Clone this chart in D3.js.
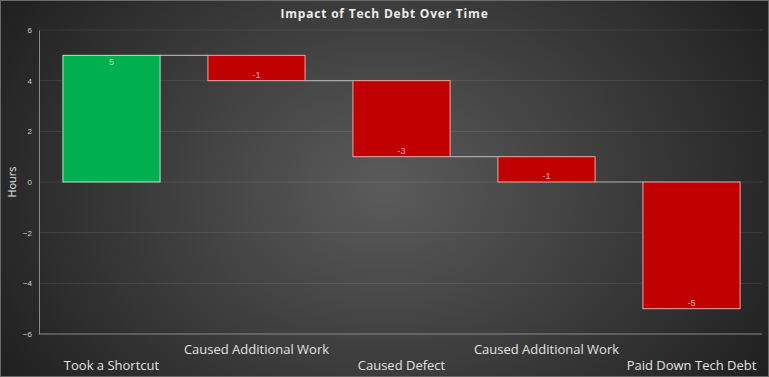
<!DOCTYPE html>
<html>
<head>
<meta charset="utf-8">
<script src="https://cdn.jsdelivr.net/npm/d3@7"></script>
<style>
  body { margin: 0; background: #2a2a2a; }
  svg { display: block; }
</style>
</head>
<body>
<div id="chart"></div>
<script>
/* CONSTANTS AND GLOBALS */
const width = 769,
  height = 377,
  margin = { top: 30, bottom: 43, left: 39, right: 5 };

/* DATA */
const categories = ["Took a Shortcut", "Caused Additional Work", "Caused Defect", "Caused Additional Work", "Paid Down Tech Debt"];
const changes = [5, -1, -3, -1, -5];
const yTicks = [-6, -4, -2, 0, 2, 4, 6];

// running totals for the waterfall
let total = 0;
const steps = changes.map((v, i) => {
  const start = total;
  total += v;
  return { key: i, name: categories[i], value: v, start: start, end: total };
});

const svg = d3.select("#chart")
  .append("svg")
  .attr("width", width)
  .attr("height", height);

// background gradient
const defs = svg.append("defs");
const grad = defs.append("radialGradient")
  .attr("id", "bg")
  .attr("cx", "50%").attr("cy", "50%").attr("r", "60%")
  .attr("gradientTransform", "translate(0.5,0.5) scale(1,1.6) translate(-0.5,-0.5)");
grad.append("stop").attr("offset", "0%").attr("stop-color", "#5b5b5b");
grad.append("stop").attr("offset", "100%").attr("stop-color", "#1e1e1e");

svg.append("rect")
  .attr("x", 0.5).attr("y", 0.5)
  .attr("width", width - 1).attr("height", height - 1)
  .attr("fill", "url(#bg)")
  .attr("stroke", "#6a6a6a");

/* SCALES */
const xScale = d3.scaleBand()
  .domain(steps.map(d => d.key))
  .range([margin.left, width - margin.right])
  .paddingInner(0.33)
  .paddingOuter(0.165);

const yScale = d3.scaleLinear()
  .domain([-6, 6])
  .range([height - margin.bottom, margin.top]);

// gridlines
svg.append("g")
  .selectAll("line")
  .data(yTicks.filter(d => d !== -6))
  .join("line")
  .attr("x1", margin.left)
  .attr("x2", width - margin.right - 2)
  .attr("y1", d => yScale(d))
  .attr("y2", d => yScale(d))
  .attr("stroke", "rgba(255,255,255,0.09)")
  .attr("stroke-width", 1);

// y axis
const yAxis = svg.append("g")
  .attr("transform", `translate(${margin.left},0)`)
  .call(d3.axisLeft(yScale).tickValues(yTicks).tickSize(0).tickPadding(7));
yAxis.select(".domain").attr("stroke", "#8a8a8a");
yAxis.selectAll("text")
  .attr("fill", "#d0d0d0")
  .style("font-family", "'Liberation Sans', Arial, sans-serif")
  .style("font-size", "8px");

// bottom axis line
svg.append("line")
  .attr("x1", margin.left)
  .attr("x2", width - margin.right - 2)
  .attr("y1", yScale(-6))
  .attr("y2", yScale(-6))
  .attr("stroke", "#8a8a8a");

// connectors
svg.append("g")
  .selectAll("line")
  .data(steps.slice(0, -1))
  .join("line")
  .attr("x1", d => xScale(d.key) + xScale.bandwidth())
  .attr("x2", d => xScale(d.key + 1))
  .attr("y1", d => yScale(d.end))
  .attr("y2", d => yScale(d.end))
  .attr("stroke", "#a8a8a8")
  .attr("stroke-width", 1.2);

// bars
svg.append("g")
  .selectAll("rect")
  .data(steps)
  .join("rect")
  .attr("x", d => xScale(d.key))
  .attr("width", xScale.bandwidth())
  .attr("y", d => yScale(Math.max(d.start, d.end)))
  .attr("height", d => Math.abs(yScale(d.start) - yScale(d.end)))
  .attr("fill", d => d.value > 0 ? "#00b050" : "#c00000")
  .attr("stroke", d => d.value > 0 ? "#b8e6c8" : "#e6a8a8")
  .attr("stroke-width", 1);

// value labels
svg.append("g")
  .selectAll("text")
  .data(steps)
  .join("text")
  .attr("x", d => xScale(d.key) + xScale.bandwidth() / 2)
  .attr("y", d => d.value > 0 ? yScale(d.end) + 10 : yScale(d.end) - 3)
  .attr("text-anchor", "middle")
  .attr("fill", d => d.value > 0 ? "#a8e8c0" : "#f0b0b0")
  .style("font-family", "'Liberation Sans', Arial, sans-serif")
  .style("font-size", "9px")
  .text(d => d.value);

// category labels, staggered
svg.append("g")
  .selectAll("text")
  .data(steps)
  .join("text")
  .attr("x", d => xScale(d.key) + xScale.bandwidth() / 2)
  .attr("y", d => d.key % 2 === 0 ? 370 : 354)
  .attr("text-anchor", "middle")
  .attr("fill", "#e2e2e2")
  .style("font-family", "'Open Sans', sans-serif")
  .style("font-size", "13px")
  .text(d => d.name);

// axis title
svg.append("text")
  .attr("transform", `translate(16,${(yScale(6) + yScale(-6)) / 2}) rotate(-90)`)
  .attr("text-anchor", "middle")
  .attr("fill", "#e6e6e6")
  .style("font-family", "'Open Sans', sans-serif")
  .style("font-size", "11px")
  .text("Hours");

// chart title
svg.append("text")
  .attr("x", width / 2)
  .attr("y", 18)
  .attr("text-anchor", "middle")
  .attr("fill", "#ececec")
  .style("font-family", "'Open Sans', sans-serif")
  .style("font-weight", "bold")
  .style("font-size", "12px")
  .style("letter-spacing", "0.8px")
  .text("Impact of Tech Debt Over Time");
</script>
</body>
</html>
